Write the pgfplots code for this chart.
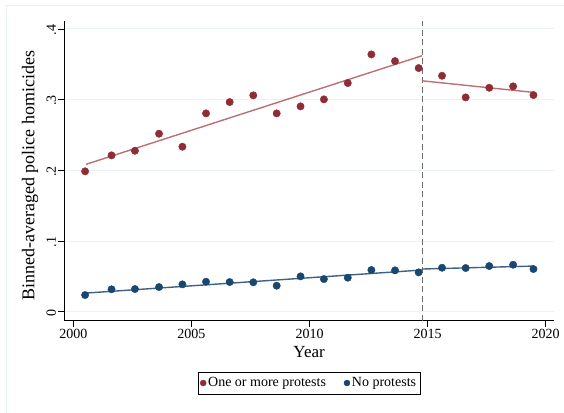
\documentclass[border=0pt]{standalone}
\usepackage{pgfplots}
\pgfplotsset{compat=1.18}
\usepackage{fontspec}
\setmainfont{Liberation Serif}

\definecolor{cranberry}{RGB}{144,44,52}
\definecolor{cranline}{RGB}{188,112,116}
\definecolor{navy}{RGB}{26,71,111}
\definecolor{navyline}{RGB}{62,98,134}
\definecolor{gridc}{RGB}{234,242,243}
\definecolor{framec}{RGB}{232,240,242}

\begin{document}
\begin{tikzpicture}
\path[use as bounding box] (-64.3pt,-91.3pt) rectangle (499.7pt,320.7pt);
% light outer region border
\draw[framec, line width=0.8pt] (-58.3pt,-95pt) -- (-58.3pt,315.7pt) -- (505pt,315.7pt);
\begin{axis}[
  scale only axis,
  width=489.7pt, height=300pt,
  xmin=1999.62, xmax=2020.35,
  ymin=-0.0127, ymax=0.4117,
  axis x line*=bottom, axis y line*=left,
  axis line style={black, line width=0.9pt},
  xtick={2000,2005,2010,2015,2020},
  xticklabels={2000,2005,2010,2015,2020},
  ytick={0,0.1,0.2,0.3,0.4},
  yticklabels={0,.1,.2,.3,.4},
  tick align=outside,
  major tick length=6pt,
  tick style={black, line width=0.8pt},
  ymajorgrids,
  grid style={gridc, line width=1pt},
  ticklabel style={font=\fontsize{14}{16}\selectfont},
  yticklabel style={rotate=90, anchor=south, inner sep=2pt, xshift=-1pt},
  xticklabel style={inner sep=2pt},
  xlabel={Year},
  ylabel={Binned-averaged police homicides},
  xlabel style={font=\fontsize{17}{19}\selectfont, at={(axis description cs:0.5,-0.121)}, anchor=base},
  ylabel style={font=\fontsize{18}{20}\selectfont, at={(axis description cs:-0.070,0.483)}, anchor=center},
  legend columns=2,
  legend style={at={(axis description cs:0.5,-0.2077)}, anchor=center,
    draw=black, font=\fontsize{14}{16}\selectfont,
    inner xsep=2pt, inner ysep=3.5pt,
    /tikz/every even column/.append style={column sep=16pt}},
  legend image post style={mark size=3pt},
  legend cell align=left,
  clip=false,
]
% cutoff year
\addplot[forget plot, gray!85!black, line width=0.9pt, dash pattern=on 6pt off 3.5pt]
  coordinates {(2014.76,-0.0127) (2014.76,0.4117)};

% linear fits, before and after the cutoff
\addplot[forget plot, cranline, line width=1.4pt] coordinates {(2000.54,0.2085) (2014.76,0.3621)};
\addplot[forget plot, cranline, line width=1.4pt] coordinates {(2014.76,0.3267) (2019.48,0.3103)};
\addplot[forget plot, navyline, line width=1.4pt] coordinates {(2000.54,0.0264) (2014.76,0.0590)};
\addplot[forget plot, navyline, line width=1.4pt] coordinates {(2014.76,0.0604) (2019.48,0.0646)};

% binned averages
\addplot[only marks, mark=*, mark size=3.7pt, color=cranberry,
  mark options={fill=cranberry, draw=cranberry}] coordinates {
  (2000.50,0.1986) (2001.62,0.2212) (2002.61,0.2277) (2003.63,0.2518)
  (2004.62,0.2334) (2005.62,0.2806) (2006.62,0.2966) (2007.62,0.3061)
  (2008.61,0.2806) (2009.62,0.2905) (2010.61,0.3004) (2011.62,0.3235)
  (2012.62,0.3640) (2013.62,0.3546) (2014.62,0.3447) (2015.61,0.3338)
  (2016.61,0.3032) (2017.61,0.3168) (2018.62,0.3188) (2019.48,0.3065)
};
\addlegendentry{One or more protests}
\addplot[only marks, mark=*, mark size=3.7pt, color=navy,
  mark options={fill=navy, draw=navy}] coordinates {
  (2000.50,0.0236) (2001.62,0.0317) (2002.61,0.0321) (2003.63,0.0349)
  (2004.62,0.0387) (2005.62,0.0424) (2006.62,0.0420) (2007.62,0.0416)
  (2008.61,0.0368) (2009.62,0.0500) (2010.61,0.0462) (2011.62,0.0481)
  (2012.62,0.0590) (2013.62,0.0585) (2014.62,0.0557) (2015.61,0.0622)
  (2016.61,0.0618) (2017.61,0.0646) (2018.62,0.0665) (2019.48,0.0604)
};
\addlegendentry{No protests}
\end{axis}
\end{tikzpicture}
\end{document}
